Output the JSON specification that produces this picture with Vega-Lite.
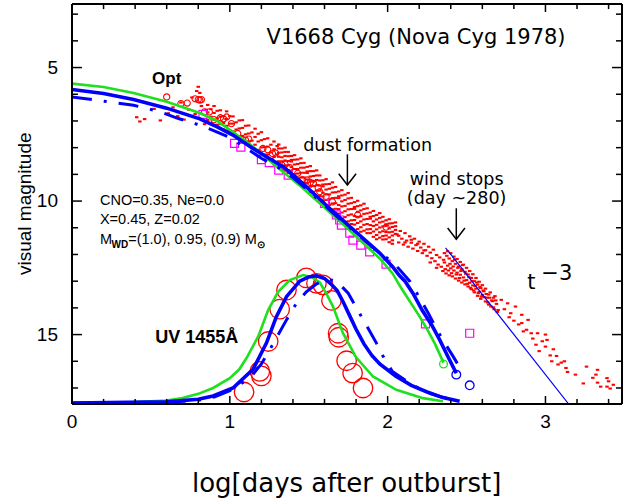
{
  "$schema": "https://vega.github.io/schema/vega-lite/v6.json",
  "width": 550,
  "height": 400,
  "autosize": {"type": "none"},
  "padding": {"left": 72, "top": 4, "right": 14, "bottom": 98},
  "background": "white",
  "config": {
    "view": {"stroke": null},
    "axis": {"grid": false, "domain": false, "ticks": false, "labels": false, "title": null}
  },
  "datasets": {
    "xmaj": [{"v": 0}, {"v": 1}, {"v": 2}, {"v": 3}],
    "xmin": [{"v": 0.2}, {"v": 0.4}, {"v": 0.6}, {"v": 0.8}, {"v": 1.2}, {"v": 1.4}, {"v": 1.6}, {"v": 1.8}, {"v": 2.2}, {"v": 2.4}, {"v": 2.6}, {"v": 2.8}, {"v": 3.2}, {"v": 3.4}],
    "ymaj": [{"v": 5}, {"v": 10}, {"v": 15}],
    "ymin": [{"v": 3}, {"v": 4}, {"v": 6}, {"v": 7}, {"v": 8}, {"v": 9}, {"v": 11}, {"v": 12}, {"v": 13}, {"v": 14}, {"v": 16}, {"v": 17}],
    "green": [
      {"s": "o", "x": 0, "m": 5.6}, {"s": "o", "x": 0.2, "m": 5.73}, {"s": "o", "x": 0.39, "m": 5.95}, {"s": "o", "x": 0.6, "m": 6.28}, {"s": "o", "x": 0.81, "m": 6.7},
      {"s": "o", "x": 0.92, "m": 7.0}, {"s": "o", "x": 1.02, "m": 7.42}, {"s": "o", "x": 1.13, "m": 7.88}, {"s": "o", "x": 1.23, "m": 8.38}, {"s": "o", "x": 1.34, "m": 8.92},
      {"s": "o", "x": 1.46, "m": 9.5}, {"s": "o", "x": 1.55, "m": 9.98}, {"s": "o", "x": 1.63, "m": 10.4}, {"s": "o", "x": 1.75, "m": 11.05}, {"s": "o", "x": 1.85, "m": 11.6},
      {"s": "o", "x": 1.95, "m": 12.15}, {"s": "o", "x": 2.03, "m": 12.7}, {"s": "o", "x": 2.08, "m": 13.2}, {"s": "o", "x": 2.14, "m": 13.75}, {"s": "o", "x": 2.2, "m": 14.3},
      {"s": "o", "x": 2.25, "m": 14.8}, {"s": "o", "x": 2.3, "m": 15.35}, {"s": "o", "x": 2.354, "m": 16.05},
      {"s": "u", "x": 0, "m": 17.55}, {"s": "u", "x": 0.4, "m": 17.53}, {"s": "u", "x": 0.6, "m": 17.47}, {"s": "u", "x": 0.7, "m": 17.38}, {"s": "u", "x": 0.8, "m": 17.22},
      {"s": "u", "x": 0.894, "m": 17.0}, {"s": "u", "x": 1.0, "m": 16.63}, {"s": "u", "x": 1.06, "m": 16.3}, {"s": "u", "x": 1.106, "m": 15.88}, {"s": "u", "x": 1.18, "m": 15.07},
      {"s": "u", "x": 1.243, "m": 14.08}, {"s": "u", "x": 1.306, "m": 13.4}, {"s": "u", "x": 1.38, "m": 12.96}, {"s": "u", "x": 1.464, "m": 12.77}, {"s": "u", "x": 1.52, "m": 12.85},
      {"s": "u", "x": 1.57, "m": 13.05}, {"s": "u", "x": 1.61, "m": 13.45}, {"s": "u", "x": 1.654, "m": 13.95}, {"s": "u", "x": 1.717, "m": 14.95}, {"s": "u", "x": 1.8, "m": 15.85},
      {"s": "u", "x": 1.907, "m": 16.57}, {"s": "u", "x": 2.055, "m": 17.07}, {"s": "u", "x": 2.224, "m": 17.38}, {"s": "u", "x": 2.35, "m": 17.5}
    ],
    "blue": [
      {"s": "o", "x": 0, "m": 5.82}, {"s": "o", "x": 0.2, "m": 5.97}, {"s": "o", "x": 0.39, "m": 6.2}, {"s": "o", "x": 0.6, "m": 6.52}, {"s": "o", "x": 0.81, "m": 6.92},
      {"s": "o", "x": 0.92, "m": 7.22}, {"s": "o", "x": 1.02, "m": 7.53}, {"s": "o", "x": 1.13, "m": 7.97}, {"s": "o", "x": 1.23, "m": 8.33}, {"s": "o", "x": 1.34, "m": 8.72},
      {"s": "o", "x": 1.46, "m": 9.33}, {"s": "o", "x": 1.55, "m": 9.82}, {"s": "o", "x": 1.63, "m": 10.26}, {"s": "o", "x": 1.75, "m": 10.9}, {"s": "o", "x": 1.85, "m": 11.42},
      {"s": "o", "x": 1.95, "m": 11.95}, {"s": "o", "x": 2.03, "m": 12.45}, {"s": "o", "x": 2.076, "m": 12.8}, {"s": "o", "x": 2.11, "m": 13.0}, {"s": "o", "x": 2.16, "m": 13.45},
      {"s": "o", "x": 2.22, "m": 14.1}, {"s": "o", "x": 2.28, "m": 14.65}, {"s": "o", "x": 2.33, "m": 15.2}, {"s": "o", "x": 2.38, "m": 15.8}, {"s": "o", "x": 2.435, "m": 16.45},
      {"s": "u", "x": 0, "m": 17.56}, {"s": "u", "x": 0.6, "m": 17.52}, {"s": "u", "x": 0.8, "m": 17.42}, {"s": "u", "x": 0.894, "m": 17.3}, {"s": "u", "x": 1.02, "m": 17.0},
      {"s": "u", "x": 1.147, "m": 16.3}, {"s": "u", "x": 1.232, "m": 15.32}, {"s": "u", "x": 1.295, "m": 14.33}, {"s": "u", "x": 1.359, "m": 13.58}, {"s": "u", "x": 1.443, "m": 13.0},
      {"s": "u", "x": 1.5, "m": 12.84}, {"s": "u", "x": 1.549, "m": 12.8}, {"s": "u", "x": 1.6, "m": 12.9}, {"s": "u", "x": 1.64, "m": 13.1}, {"s": "u", "x": 1.68, "m": 13.35},
      {"s": "u", "x": 1.72, "m": 13.8}, {"s": "u", "x": 1.76, "m": 14.3}, {"s": "u", "x": 1.8, "m": 14.8}, {"s": "u", "x": 1.85, "m": 15.35}, {"s": "u", "x": 1.9, "m": 15.78},
      {"s": "u", "x": 1.95, "m": 16.1}, {"s": "u", "x": 2.05, "m": 16.55}, {"s": "u", "x": 2.15, "m": 16.9}, {"s": "u", "x": 2.25, "m": 17.15}, {"s": "u", "x": 2.35, "m": 17.36},
      {"s": "u", "x": 2.456, "m": 17.5}
    ],
    "dd": [
      {"s": "o", "x": 0, "m": 6.1}, {"s": "o", "x": 0.24, "m": 6.29}, {"s": "o", "x": 0.39, "m": 6.41}, {"s": "o", "x": 0.56, "m": 6.66}, {"s": "o", "x": 0.67, "m": 6.9},
      {"s": "o", "x": 0.78, "m": 7.1}, {"s": "o", "x": 0.89, "m": 7.34}, {"s": "o", "x": 1.0, "m": 7.62}, {"s": "o", "x": 1.1, "m": 8.0}, {"s": "o", "x": 1.2, "m": 8.4},
      {"s": "o", "x": 1.3, "m": 8.72}, {"s": "o", "x": 1.4, "m": 9.12}, {"s": "o", "x": 1.5, "m": 9.62}, {"s": "o", "x": 1.6, "m": 10.15}, {"s": "o", "x": 1.7, "m": 10.7},
      {"s": "o", "x": 1.8, "m": 11.2}, {"s": "o", "x": 1.9, "m": 11.7}, {"s": "o", "x": 2.0, "m": 12.15}, {"s": "o", "x": 2.06, "m": 12.46}, {"s": "o", "x": 2.14, "m": 13.0},
      {"s": "o", "x": 2.19, "m": 13.5}, {"s": "o", "x": 2.255, "m": 14.17}, {"s": "o", "x": 2.31, "m": 14.79}, {"s": "o", "x": 2.36, "m": 15.3}, {"s": "o", "x": 2.41, "m": 15.77},
      {"s": "o", "x": 2.48, "m": 16.46},
      {"s": "u", "x": 0, "m": 17.57}, {"s": "u", "x": 0.6, "m": 17.54}, {"s": "u", "x": 0.8, "m": 17.46}, {"s": "u", "x": 0.905, "m": 17.33}, {"s": "u", "x": 1.0, "m": 17.1},
      {"s": "u", "x": 1.127, "m": 16.63}, {"s": "u", "x": 1.2, "m": 16.1}, {"s": "u", "x": 1.25, "m": 15.6}, {"s": "u", "x": 1.295, "m": 15.13}, {"s": "u", "x": 1.359, "m": 14.45},
      {"s": "u", "x": 1.422, "m": 13.83}, {"s": "u", "x": 1.485, "m": 13.4}, {"s": "u", "x": 1.55, "m": 13.1}, {"s": "u", "x": 1.62, "m": 12.92}, {"s": "u", "x": 1.68, "m": 13.02},
      {"s": "u", "x": 1.75, "m": 13.45}, {"s": "u", "x": 1.81, "m": 14.08}, {"s": "u", "x": 1.87, "m": 14.7}, {"s": "u", "x": 1.93, "m": 15.33}, {"s": "u", "x": 1.97, "m": 15.8},
      {"s": "u", "x": 2.03, "m": 16.38}, {"s": "u", "x": 2.14, "m": 16.82}, {"s": "u", "x": 2.234, "m": 17.13}, {"s": "u", "x": 2.33, "m": 17.32}, {"s": "u", "x": 2.456, "m": 17.5}
    ],
    "tline": [{"x": 2.367, "m": 11.75}, {"x": 3.147, "m": 17.6}],
    "g_end": [{"x": 2.354, "m": 16.1}],
    "b_end": [{"x": 2.435, "m": 16.5}, {"x": 2.52, "m": 16.9}],
    "arrows": [{"x": 1.745, "m": 8.25, "m2": 9.4}, {"x": 2.435, "m": 10.27, "m2": 11.43}],
    "sq": [
      {"x": 0.83, "m": 6.75}, {"x": 1.03, "m": 7.84}, {"x": 1.07, "m": 7.98}, {"x": 1.2, "m": 8.45}, {"x": 1.25, "m": 8.56},
      {"x": 1.31, "m": 8.84}, {"x": 1.37, "m": 9.03}, {"x": 1.6, "m": 10.09}, {"x": 1.675, "m": 10.52}, {"x": 1.696, "m": 10.71},
      {"x": 1.707, "m": 10.9}, {"x": 1.76, "m": 11.2}, {"x": 1.78, "m": 11.46}, {"x": 1.83, "m": 11.65}, {"x": 1.886, "m": 11.9},
      {"x": 1.99, "m": 12.36}, {"x": 2.24, "m": 14.6}, {"x": 2.52, "m": 14.95}
    ],
    "circ": [
      {"x": 0.6, "m": 6.1}, {"x": 0.69, "m": 6.35}, {"x": 0.73, "m": 6.33}, {"x": 0.78, "m": 6.17}, {"x": 0.8, "m": 6.2},
      {"x": 0.81, "m": 6.22}, {"x": 0.82, "m": 6.2}, {"x": 0.84, "m": 6.66}, {"x": 0.87, "m": 6.66}, {"x": 0.9, "m": 6.95},
      {"x": 0.94, "m": 6.88}, {"x": 0.96, "m": 6.92}, {"x": 0.98, "m": 6.85}, {"x": 1.01, "m": 7.1}, {"x": 1.05, "m": 7.47},
      {"x": 1.08, "m": 7.7}, {"x": 1.1, "m": 7.72}, {"x": 1.12, "m": 7.68}, {"x": 1.21, "m": 8.03}, {"x": 1.24, "m": 8.08},
      {"x": 1.27, "m": 8.22}, {"x": 1.29, "m": 8.2}, {"x": 1.33, "m": 8.65}, {"x": 1.35, "m": 8.62}, {"x": 1.38, "m": 8.75},
      {"x": 1.43, "m": 8.96}, {"x": 1.46, "m": 9.2}, {"x": 1.49, "m": 9.21}, {"x": 1.51, "m": 9.3}, {"x": 1.53, "m": 9.34},
      {"x": 1.56, "m": 9.5}, {"x": 1.57, "m": 9.65}, {"x": 1.61, "m": 9.84}, {"x": 1.65, "m": 10.03}, {"x": 1.81, "m": 10.52},
      {"x": 1.99, "m": 10.98}
    ],
    "uvc": [
      {"x": 1.09, "m": 17.15}, {"x": 1.19, "m": 16.38}, {"x": 1.2, "m": 16.55}, {"x": 1.243, "m": 15.26}, {"x": 1.316, "m": 14.05},
      {"x": 1.359, "m": 13.33}, {"x": 1.485, "m": 12.88}, {"x": 1.549, "m": 13.08}, {"x": 1.59, "m": 13.14}, {"x": 1.644, "m": 13.72},
      {"x": 1.686, "m": 14.95}, {"x": 1.69, "m": 15.1}, {"x": 1.74, "m": 15.98}, {"x": 1.778, "m": 16.44}, {"x": 1.844, "m": 17.0}
    ],
    "dots": [
      {"x": 0.41, "m": 6.86}, {"x": 0.43, "m": 7.02}, {"x": 0.46, "m": 6.93}, {"x": 0.52, "m": 6.55}, {"x": 0.56, "m": 6.98},
      {"x": 0.61, "m": 6.71}, {"x": 0.64, "m": 6.49}, {"x": 0.67, "m": 6.82}, {"x": 0.69, "m": 6.31}, {"x": 0.71, "m": 6.95},
      {"x": 0.74, "m": 6.58}, {"x": 0.76, "m": 6.12}, {"x": 0.78, "m": 6.74}, {"x": 0.79, "m": 5.88}, {"x": 0.8, "m": 5.72},
      {"x": 0.81, "m": 5.95}, {"x": 0.82, "m": 6.44}, {"x": 0.83, "m": 6.95}, {"x": 0.84, "m": 7.12}, {"x": 0.85, "m": 6.58},
      {"x": 0.86, "m": 6.4}, {"x": 0.86, "m": 6.68}, {"x": 0.86, "m": 6.96},
      {"x": 0.88, "m": 6.56}, {"x": 0.88, "m": 6.84}, {"x": 0.88, "m": 7.08},
      {"x": 0.9, "m": 6.44}, {"x": 0.9, "m": 6.7}, {"x": 0.9, "m": 6.96}, {"x": 0.9, "m": 7.16},
      {"x": 0.92, "m": 6.62}, {"x": 0.92, "m": 6.9}, {"x": 0.92, "m": 7.14},
      {"x": 0.94, "m": 6.6}, {"x": 0.94, "m": 6.84}, {"x": 0.94, "m": 7.12},
      {"x": 0.96, "m": 6.82}, {"x": 0.96, "m": 7.08}, {"x": 0.96, "m": 7.32},
      {"x": 0.98, "m": 6.64}, {"x": 0.98, "m": 6.92}, {"x": 0.98, "m": 7.18}, {"x": 0.98, "m": 7.36},
      {"x": 1.0, "m": 6.82}, {"x": 1.0, "m": 7.1}, {"x": 1.0, "m": 7.36},
      {"x": 1.02, "m": 6.83}, {"x": 1.02, "m": 7.1}, {"x": 1.02, "m": 7.39},
      {"x": 1.04, "m": 7.05}, {"x": 1.04, "m": 7.32}, {"x": 1.04, "m": 7.6},
      {"x": 1.06, "m": 6.98}, {"x": 1.06, "m": 7.28}, {"x": 1.06, "m": 7.57},
      {"x": 1.08, "m": 6.97}, {"x": 1.08, "m": 7.26}, {"x": 1.08, "m": 7.56}, {"x": 1.08, "m": 7.78},
      {"x": 1.1, "m": 7.18}, {"x": 1.1, "m": 7.5}, {"x": 1.1, "m": 7.79},
      {"x": 1.12, "m": 7.17}, {"x": 1.12, "m": 7.47}, {"x": 1.12, "m": 7.76},
      {"x": 1.14, "m": 7.43}, {"x": 1.14, "m": 7.74}, {"x": 1.14, "m": 8.02},
      {"x": 1.16, "m": 7.29}, {"x": 1.16, "m": 7.6}, {"x": 1.16, "m": 7.89},
      {"x": 1.18, "m": 7.48}, {"x": 1.18, "m": 7.77}, {"x": 1.18, "m": 8.08},
      {"x": 1.2, "m": 7.42}, {"x": 1.2, "m": 7.72}, {"x": 1.2, "m": 7.99}, {"x": 1.2, "m": 8.24},
      {"x": 1.22, "m": 7.68}, {"x": 1.22, "m": 7.98}, {"x": 1.22, "m": 8.26},
      {"x": 1.24, "m": 7.65}, {"x": 1.24, "m": 7.96}, {"x": 1.24, "m": 8.26},
      {"x": 1.26, "m": 7.89}, {"x": 1.26, "m": 8.18}, {"x": 1.26, "m": 8.47},
      {"x": 1.28, "m": 7.77}, {"x": 1.28, "m": 8.06}, {"x": 1.28, "m": 8.35},
      {"x": 1.3, "m": 7.94}, {"x": 1.3, "m": 8.25}, {"x": 1.3, "m": 8.55}, {"x": 1.3, "m": 8.67},
      {"x": 1.31, "m": 7.88}, {"x": 1.31, "m": 8.03}, {"x": 1.31, "m": 8.19}, {"x": 1.31, "m": 8.34}, {"x": 1.31, "m": 8.51}, {"x": 1.31, "m": 8.69},
      {"x": 1.33, "m": 8.03}, {"x": 1.33, "m": 8.18}, {"x": 1.33, "m": 8.36}, {"x": 1.33, "m": 8.51}, {"x": 1.33, "m": 8.68}, {"x": 1.33, "m": 8.82},
      {"x": 1.35, "m": 8.0}, {"x": 1.35, "m": 8.16}, {"x": 1.35, "m": 8.31}, {"x": 1.35, "m": 8.48}, {"x": 1.35, "m": 8.66}, {"x": 1.35, "m": 8.84},
      {"x": 1.37, "m": 8.16}, {"x": 1.37, "m": 8.32}, {"x": 1.37, "m": 8.5}, {"x": 1.37, "m": 8.66}, {"x": 1.37, "m": 8.84}, {"x": 1.37, "m": 8.95},
      {"x": 1.39, "m": 8.31}, {"x": 1.39, "m": 8.46}, {"x": 1.39, "m": 8.52}, {"x": 1.39, "m": 8.73}, {"x": 1.39, "m": 8.86}, {"x": 1.39, "m": 9.0},
      {"x": 1.41, "m": 8.28}, {"x": 1.41, "m": 8.45}, {"x": 1.41, "m": 8.63}, {"x": 1.41, "m": 8.8}, {"x": 1.41, "m": 8.99}, {"x": 1.41, "m": 9.18},
      {"x": 1.43, "m": 8.44}, {"x": 1.43, "m": 8.61}, {"x": 1.43, "m": 8.8}, {"x": 1.43, "m": 8.97}, {"x": 1.43, "m": 9.16}, {"x": 1.43, "m": 9.32},
      {"x": 1.45, "m": 8.4}, {"x": 1.45, "m": 8.58}, {"x": 1.45, "m": 8.75}, {"x": 1.45, "m": 8.94}, {"x": 1.45, "m": 9.12}, {"x": 1.45, "m": 9.32},
      {"x": 1.47, "m": 8.57}, {"x": 1.47, "m": 8.75}, {"x": 1.47, "m": 8.94}, {"x": 1.47, "m": 9.12}, {"x": 1.47, "m": 9.31}, {"x": 1.47, "m": 9.44},
      {"x": 1.49, "m": 8.72}, {"x": 1.49, "m": 8.89}, {"x": 1.49, "m": 8.95}, {"x": 1.49, "m": 9.19}, {"x": 1.49, "m": 9.33}, {"x": 1.49, "m": 9.49},
      {"x": 1.51, "m": 8.69}, {"x": 1.51, "m": 8.88}, {"x": 1.51, "m": 9.08}, {"x": 1.51, "m": 9.26}, {"x": 1.51, "m": 9.46}, {"x": 1.51, "m": 9.67},
      {"x": 1.53, "m": 8.88}, {"x": 1.53, "m": 9.06}, {"x": 1.53, "m": 9.27}, {"x": 1.53, "m": 9.44}, {"x": 1.53, "m": 9.65}, {"x": 1.53, "m": 9.82},
      {"x": 1.55, "m": 8.85}, {"x": 1.55, "m": 9.04}, {"x": 1.55, "m": 9.21}, {"x": 1.55, "m": 9.41}, {"x": 1.55, "m": 9.61}, {"x": 1.55, "m": 9.82},
      {"x": 1.57, "m": 9.04}, {"x": 1.57, "m": 9.23}, {"x": 1.57, "m": 9.42}, {"x": 1.57, "m": 9.61}, {"x": 1.57, "m": 9.81}, {"x": 1.57, "m": 9.94},
      {"x": 1.59, "m": 9.22}, {"x": 1.59, "m": 9.38}, {"x": 1.59, "m": 9.45}, {"x": 1.59, "m": 9.69}, {"x": 1.59, "m": 9.83}, {"x": 1.59, "m": 9.99},
      {"x": 1.61, "m": 9.18}, {"x": 1.61, "m": 9.37}, {"x": 1.61, "m": 9.57}, {"x": 1.61, "m": 9.75}, {"x": 1.61, "m": 9.96}, {"x": 1.61, "m": 10.17},
      {"x": 1.63, "m": 9.36}, {"x": 1.63, "m": 9.54}, {"x": 1.63, "m": 9.75}, {"x": 1.63, "m": 9.93}, {"x": 1.63, "m": 10.15}, {"x": 1.63, "m": 10.32},
      {"x": 1.65, "m": 9.3}, {"x": 1.65, "m": 9.5}, {"x": 1.65, "m": 9.68}, {"x": 1.65, "m": 9.89}, {"x": 1.65, "m": 10.09}, {"x": 1.65, "m": 10.31},
      {"x": 1.67, "m": 9.47}, {"x": 1.67, "m": 9.67}, {"x": 1.67, "m": 9.88}, {"x": 1.67, "m": 10.08}, {"x": 1.67, "m": 10.29}, {"x": 1.67, "m": 10.43},
      {"x": 1.69, "m": 9.64}, {"x": 1.69, "m": 9.82}, {"x": 1.69, "m": 9.89}, {"x": 1.69, "m": 10.15}, {"x": 1.69, "m": 10.3}, {"x": 1.69, "m": 10.47},
      {"x": 1.71, "m": 9.59}, {"x": 1.71, "m": 9.79}, {"x": 1.71, "m": 10.01}, {"x": 1.71, "m": 10.2}, {"x": 1.71, "m": 10.43}, {"x": 1.71, "m": 10.66},
      {"x": 1.73, "m": 9.76}, {"x": 1.73, "m": 9.96}, {"x": 1.73, "m": 10.18}, {"x": 1.73, "m": 10.38}, {"x": 1.73, "m": 10.6}, {"x": 1.73, "m": 10.78},
      {"x": 1.75, "m": 9.7}, {"x": 1.75, "m": 9.9}, {"x": 1.75, "m": 10.1}, {"x": 1.75, "m": 10.31}, {"x": 1.75, "m": 10.53}, {"x": 1.75, "m": 10.76},
      {"x": 1.77, "m": 9.88}, {"x": 1.77, "m": 10.08}, {"x": 1.77, "m": 10.3}, {"x": 1.77, "m": 10.5}, {"x": 1.77, "m": 10.72}, {"x": 1.77, "m": 10.86},
      {"x": 1.79, "m": 10.04}, {"x": 1.79, "m": 10.22}, {"x": 1.79, "m": 10.29}, {"x": 1.79, "m": 10.56}, {"x": 1.79, "m": 10.71}, {"x": 1.79, "m": 10.88},
      {"x": 1.81, "m": 9.99}, {"x": 1.81, "m": 10.19}, {"x": 1.81, "m": 10.4}, {"x": 1.81, "m": 10.59}, {"x": 1.81, "m": 10.82}, {"x": 1.81, "m": 11.05},
      {"x": 1.83, "m": 10.16}, {"x": 1.83, "m": 10.35}, {"x": 1.83, "m": 10.57}, {"x": 1.83, "m": 10.76}, {"x": 1.83, "m": 10.98}, {"x": 1.83, "m": 11.15},
      {"x": 1.85, "m": 10.1}, {"x": 1.85, "m": 10.3}, {"x": 1.85, "m": 10.48}, {"x": 1.85, "m": 10.69}, {"x": 1.85, "m": 10.89}, {"x": 1.85, "m": 11.11},
      {"x": 1.87, "m": 10.27}, {"x": 1.87, "m": 10.46}, {"x": 1.87, "m": 10.67}, {"x": 1.87, "m": 10.86}, {"x": 1.87, "m": 11.06}, {"x": 1.87, "m": 11.2},
      {"x": 1.89, "m": 10.43}, {"x": 1.89, "m": 10.59}, {"x": 1.89, "m": 10.66}, {"x": 1.89, "m": 10.9}, {"x": 1.89, "m": 11.05}, {"x": 1.89, "m": 11.2},
      {"x": 1.91, "m": 10.37}, {"x": 1.91, "m": 10.56}, {"x": 1.91, "m": 10.76}, {"x": 1.91, "m": 10.93}, {"x": 1.91, "m": 11.14}, {"x": 1.91, "m": 11.34},
      {"x": 1.93, "m": 10.52}, {"x": 1.93, "m": 10.69}, {"x": 1.93, "m": 10.89}, {"x": 1.93, "m": 11.06}, {"x": 1.93, "m": 11.27}, {"x": 1.93, "m": 11.43},
      {"x": 1.95, "m": 10.45}, {"x": 1.95, "m": 10.63}, {"x": 1.95, "m": 10.8}, {"x": 1.95, "m": 10.99}, {"x": 1.95, "m": 11.17}, {"x": 1.95, "m": 11.37},
      {"x": 1.97, "m": 10.59}, {"x": 1.97, "m": 10.77}, {"x": 1.97, "m": 10.95}, {"x": 1.97, "m": 11.13}, {"x": 1.97, "m": 11.31}, {"x": 1.97, "m": 11.44},
      {"x": 1.99, "m": 10.72}, {"x": 1.99, "m": 10.87}, {"x": 1.99, "m": 10.93}, {"x": 1.99, "m": 11.16}, {"x": 1.99, "m": 11.29}, {"x": 1.99, "m": 11.43},
      {"x": 2.01, "m": 10.68}, {"x": 2.01, "m": 10.84}, {"x": 2.01, "m": 11.02}, {"x": 2.01, "m": 11.17}, {"x": 2.01, "m": 11.36}, {"x": 2.01, "m": 11.54},
      {"x": 2.03, "m": 10.83}, {"x": 2.03, "m": 10.97}, {"x": 2.03, "m": 11.15}, {"x": 2.03, "m": 11.29}, {"x": 2.03, "m": 11.47}, {"x": 2.03, "m": 11.6},
      {"x": 2.05, "m": 10.8}, {"x": 2.05, "m": 10.94}, {"x": 2.05, "m": 11.08}, {"x": 2.05, "m": 11.23},
      {"x": 2.06, "m": 11.25}, {"x": 2.07, "m": 11.55}, {"x": 2.07, "m": 11.3}, {"x": 2.08, "m": 11.12}, {"x": 2.09, "m": 11.41},
      {"x": 2.1, "m": 11.63}, {"x": 2.11, "m": 11.2}, {"x": 2.11, "m": 11.55}, {"x": 2.12, "m": 11.48}, {"x": 2.13, "m": 11.71}, {"x": 2.14, "m": 11.32},
      {"x": 2.15, "m": 11.56}, {"x": 2.15, "m": 11.45}, {"x": 2.16, "m": 11.78}, {"x": 2.17, "m": 11.41}, {"x": 2.18, "m": 11.65}, {"x": 2.19, "m": 11.87},
      {"x": 2.19, "m": 11.6}, {"x": 2.2, "m": 11.52}, {"x": 2.21, "m": 11.74}, {"x": 2.22, "m": 11.95}, {"x": 2.23, "m": 11.6}, {"x": 2.23, "m": 11.85},
      {"x": 2.24, "m": 11.84}, {"x": 2.25, "m": 12.05}, {"x": 2.26, "m": 11.71}, {"x": 2.27, "m": 11.93}, {"x": 2.27, "m": 12.3}, {"x": 2.28, "m": 12.14},
      {"x": 2.29, "m": 11.82}, {"x": 2.3, "m": 12.25}, {"x": 2.31, "m": 12.02}, {"x": 2.31, "m": 12.5}, {"x": 2.32, "m": 12.38}, {"x": 2.33, "m": 12.11},
      {"x": 2.34, "m": 12.46}, {"x": 2.35, "m": 12.62}, {"x": 2.36, "m": 11.95}, {"x": 2.36, "m": 12.3}, {"x": 2.37, "m": 12.71}, {"x": 2.38, "m": 11.88},
      {"x": 2.38, "m": 12.42}, {"x": 2.39, "m": 12.15}, {"x": 2.39, "m": 12.78}, {"x": 2.4, "m": 11.95}, {"x": 2.4, "m": 12.52},
      {"x": 2.41, "m": 12.25}, {"x": 2.41, "m": 12.82}, {"x": 2.42, "m": 12.08}, {"x": 2.42, "m": 12.6}, {"x": 2.43, "m": 12.35},
      {"x": 2.43, "m": 12.9}, {"x": 2.44, "m": 12.17}, {"x": 2.44, "m": 12.68}, {"x": 2.45, "m": 12.45}, {"x": 2.45, "m": 12.98},
      {"x": 2.46, "m": 12.28}, {"x": 2.46, "m": 12.76}, {"x": 2.47, "m": 12.55}, {"x": 2.47, "m": 13.05}, {"x": 2.48, "m": 12.38},
      {"x": 2.48, "m": 12.86}, {"x": 2.49, "m": 12.65}, {"x": 2.49, "m": 13.12}, {"x": 2.5, "m": 12.5}, {"x": 2.5, "m": 12.96},
      {"x": 2.51, "m": 12.75}, {"x": 2.51, "m": 13.2}, {"x": 2.52, "m": 12.62}, {"x": 2.52, "m": 13.06}, {"x": 2.53, "m": 12.88},
      {"x": 2.53, "m": 13.3}, {"x": 2.54, "m": 12.74}, {"x": 2.54, "m": 13.16}, {"x": 2.55, "m": 13.0}, {"x": 2.55, "m": 13.42},
      {"x": 2.56, "m": 12.88}, {"x": 2.56, "m": 13.28}, {"x": 2.57, "m": 13.13}, {"x": 2.57, "m": 13.55}, {"x": 2.58, "m": 13.02},
      {"x": 2.58, "m": 13.4}, {"x": 2.59, "m": 13.26}, {"x": 2.59, "m": 13.66}, {"x": 2.6, "m": 13.15}, {"x": 2.6, "m": 13.52},
      {"x": 2.61, "m": 13.38}, {"x": 2.62, "m": 13.76}, {"x": 2.62, "m": 13.28}, {"x": 2.63, "m": 13.62}, {"x": 2.64, "m": 13.5},
      {"x": 2.64, "m": 13.88}, {"x": 2.65, "m": 13.42}, {"x": 2.66, "m": 13.72}, {"x": 2.67, "m": 13.62}, {"x": 2.67, "m": 13.98},
      {"x": 2.68, "m": 13.56}, {"x": 2.69, "m": 13.85}, {"x": 2.7, "m": 14.08},
      {"x": 2.355, "m": 12.2}, {"x": 2.365, "m": 12.55}, {"x": 2.375, "m": 12.05}, {"x": 2.385, "m": 12.6}, {"x": 2.395, "m": 12.35},
      {"x": 2.405, "m": 12.7}, {"x": 2.415, "m": 12.45}, {"x": 2.425, "m": 12.2}, {"x": 2.435, "m": 12.75}, {"x": 2.445, "m": 12.5},
      {"x": 2.455, "m": 12.88}, {"x": 2.465, "m": 12.62}, {"x": 2.475, "m": 12.4}, {"x": 2.485, "m": 12.98}, {"x": 2.495, "m": 12.72},
      {"x": 2.505, "m": 13.1}, {"x": 2.515, "m": 12.85}, {"x": 2.525, "m": 13.25}, {"x": 2.535, "m": 13.0}, {"x": 2.545, "m": 13.35},
      {"x": 2.555, "m": 13.18}, {"x": 2.565, "m": 13.05}, {"x": 2.575, "m": 13.45}, {"x": 2.585, "m": 13.22}, {"x": 2.595, "m": 13.58},
      {"x": 2.605, "m": 13.35}, {"x": 2.615, "m": 13.6}, {"x": 2.625, "m": 13.48}, {"x": 2.635, "m": 13.8}, {"x": 2.645, "m": 13.62},
      {"x": 2.655, "m": 13.95}, {"x": 2.665, "m": 13.75}, {"x": 2.675, "m": 14.05}, {"x": 2.685, "m": 13.72}, {"x": 2.695, "m": 14.15},
      {"x": 2.72, "m": 13.7}, {"x": 2.74, "m": 14.05},
      {"x": 2.76, "m": 13.83}, {"x": 2.77, "m": 14.35}, {"x": 2.78, "m": 14.2}, {"x": 2.8, "m": 14.48}, {"x": 2.81, "m": 13.95},
      {"x": 2.83, "m": 14.62}, {"x": 2.85, "m": 14.26}, {"x": 2.85, "m": 14.57}, {"x": 2.86, "m": 14.88}, {"x": 2.88, "m": 14.82},
      {"x": 2.89, "m": 14.45}, {"x": 2.91, "m": 14.95}, {"x": 2.92, "m": 15.15}, {"x": 2.94, "m": 15.38}, {"x": 2.95, "m": 14.95},
      {"x": 2.96, "m": 15.62}, {"x": 2.98, "m": 15.25}, {"x": 3.0, "m": 15.0}, {"x": 3.0, "m": 15.45}, {"x": 3.01, "m": 15.2},
      {"x": 3.03, "m": 15.78}, {"x": 3.04, "m": 16.0}, {"x": 3.05, "m": 15.55}, {"x": 3.07, "m": 15.8}, {"x": 3.08, "m": 16.12},
      {"x": 3.1, "m": 16.05}, {"x": 3.12, "m": 16.0}, {"x": 3.13, "m": 16.25}, {"x": 3.14, "m": 16.4}, {"x": 3.19, "m": 16.5},
      {"x": 3.24, "m": 16.83}, {"x": 3.26, "m": 16.2}, {"x": 3.3, "m": 16.62}, {"x": 3.32, "m": 16.5}, {"x": 3.33, "m": 16.32},
      {"x": 3.33, "m": 16.8}, {"x": 3.35, "m": 16.95}, {"x": 3.39, "m": 16.63}, {"x": 3.39, "m": 16.95}, {"x": 3.4, "m": 16.75},
      {"x": 3.41, "m": 17.02}, {"x": 3.43, "m": 16.88}
    ]
  },
  "layer": [
    {
      "data": {"name": "dots"},
      "mark": {"type": "point", "shape": "M-1,-0.6H1V0.6H-1Z", "filled": true, "color": "#ff0000", "size": 12, "opacity": 1, "strokeWidth": 0},
      "encoding": {
        "x": {"field": "x", "type": "quantitative", "scale": {"domain": [0, 3.485], "nice": false, "zero": false},
          "axis": {"orient": "bottom", "values": [0, 1, 2, 3], "labels": false, "ticks": false, "domain": false, "title": null}},
        "y": {"field": "m", "type": "quantitative", "scale": {"domain": [2.62, 17.6], "reverse": true, "nice": false, "zero": false},
          "axis": {"orient": "left", "values": [5, 10, 15], "labels": false, "ticks": false, "domain": false, "title": null}}
      }
    },
    {
      "data": {"name": "circ"},
      "mark": {"type": "point", "shape": "circle", "filled": false, "color": "#ff0000", "size": 38, "strokeWidth": 1.1, "opacity": 1},
      "encoding": {"x": {"field": "x", "type": "quantitative", "axis": null}, "y": {"field": "m", "type": "quantitative", "axis": null}}
    },
    {
      "data": {"name": "sq"},
      "mark": {"type": "point", "shape": "square", "filled": false, "color": "#ff00ff", "size": 64, "strokeWidth": 1.2, "opacity": 1},
      "encoding": {"x": {"field": "x", "type": "quantitative", "axis": null}, "y": {"field": "m", "type": "quantitative", "axis": null}}
    },
    {
      "data": {"name": "uvc"},
      "mark": {"type": "point", "shape": "circle", "filled": false, "color": "#ff0000", "size": 380, "strokeWidth": 1.3, "opacity": 1},
      "encoding": {"x": {"field": "x", "type": "quantitative", "axis": null}, "y": {"field": "m", "type": "quantitative", "axis": null}}
    },
    {
      "data": {"name": "tline"},
      "mark": {"type": "line", "color": "#0000ff", "strokeWidth": 1.2, "clip": true},
      "encoding": {"x": {"field": "x", "type": "quantitative", "axis": null}, "y": {"field": "m", "type": "quantitative", "axis": null}}
    },
    {
      "data": {"name": "green"},
      "mark": {"type": "line", "color": "#1ee01e", "strokeWidth": 2.6, "clip": true},
      "encoding": {"x": {"field": "x", "type": "quantitative", "axis": null}, "y": {"field": "m", "type": "quantitative", "axis": null}, "detail": {"field": "s"}}
    },
    {
      "data": {"name": "dd"},
      "mark": {"type": "line", "color": "#0000ff", "strokeWidth": 3, "strokeDash": [20, 12, 3, 12], "clip": true},
      "encoding": {"x": {"field": "x", "type": "quantitative", "axis": null}, "y": {"field": "m", "type": "quantitative", "axis": null}, "detail": {"field": "s"}}
    },
    {
      "data": {"name": "blue"},
      "mark": {"type": "line", "color": "#0000ff", "strokeWidth": 3.6, "clip": true},
      "encoding": {"x": {"field": "x", "type": "quantitative", "axis": null}, "y": {"field": "m", "type": "quantitative", "axis": null}, "detail": {"field": "s"}}
    },
    {
      "data": {"name": "g_end"},
      "mark": {"type": "point", "shape": "circle", "filled": false, "color": "#1ee01e", "size": 60, "strokeWidth": 1.3, "opacity": 1},
      "encoding": {"x": {"field": "x", "type": "quantitative", "axis": null}, "y": {"field": "m", "type": "quantitative", "axis": null}}
    },
    {
      "data": {"name": "b_end"},
      "mark": {"type": "point", "shape": "circle", "filled": false, "color": "#0000ff", "size": 75, "strokeWidth": 1.3, "opacity": 1},
      "encoding": {"x": {"field": "x", "type": "quantitative", "axis": null}, "y": {"field": "m", "type": "quantitative", "axis": null}}
    },
    {
      "data": {"name": "arrows"},
      "mark": {"type": "rule", "color": "black", "strokeWidth": 1.5},
      "encoding": {"x": {"field": "x", "type": "quantitative", "axis": null}, "y": {"field": "m", "type": "quantitative", "axis": null}, "y2": {"field": "m2"}}
    },
    {
      "data": {"name": "arrows"},
      "mark": {"type": "point", "shape": "M-1,-1.3L0,0L1,-1.3", "filled": false, "color": "black", "size": 300, "strokeWidth": 1.5, "opacity": 1},
      "encoding": {"x": {"field": "x", "type": "quantitative", "axis": null}, "y": {"field": "m2", "type": "quantitative", "axis": null}}
    },
    {
      "data": {"name": "xmaj"},
      "mark": {"type": "rule", "color": "black", "strokeWidth": 1.5},
      "encoding": {"x": {"field": "v", "type": "quantitative", "axis": null}, "y": {"datum": 17.6, "axis": null}, "y2": {"datum": 17.3}}
    },
    {
      "data": {"name": "xmaj"},
      "mark": {"type": "rule", "color": "black", "strokeWidth": 1.5},
      "encoding": {"x": {"field": "v", "type": "quantitative", "axis": null}, "y": {"datum": 2.62, "axis": null}, "y2": {"datum": 2.92}}
    },
    {
      "data": {"name": "xmin"},
      "mark": {"type": "rule", "color": "black", "strokeWidth": 1.5},
      "encoding": {"x": {"field": "v", "type": "quantitative", "axis": null}, "y": {"datum": 17.6, "axis": null}, "y2": {"datum": 17.41}}
    },
    {
      "data": {"name": "xmin"},
      "mark": {"type": "rule", "color": "black", "strokeWidth": 1.5},
      "encoding": {"x": {"field": "v", "type": "quantitative", "axis": null}, "y": {"datum": 2.62, "axis": null}, "y2": {"datum": 2.81}}
    },
    {
      "data": {"name": "ymaj"},
      "mark": {"type": "rule", "color": "black", "strokeWidth": 1.5},
      "encoding": {"y": {"field": "v", "type": "quantitative", "axis": null}, "x": {"datum": 0, "axis": null}, "x2": {"datum": 0.063}}
    },
    {
      "data": {"name": "ymaj"},
      "mark": {"type": "rule", "color": "black", "strokeWidth": 1.5},
      "encoding": {"y": {"field": "v", "type": "quantitative", "axis": null}, "x": {"datum": 3.485, "axis": null}, "x2": {"datum": 3.422}}
    },
    {
      "data": {"name": "ymin"},
      "mark": {"type": "rule", "color": "black", "strokeWidth": 1.5},
      "encoding": {"y": {"field": "v", "type": "quantitative", "axis": null}, "x": {"datum": 0, "axis": null}, "x2": {"datum": 0.038}}
    },
    {
      "data": {"name": "ymin"},
      "mark": {"type": "rule", "color": "black", "strokeWidth": 1.5},
      "encoding": {"y": {"field": "v", "type": "quantitative", "axis": null}, "x": {"datum": 3.485, "axis": null}, "x2": {"datum": 3.447}}
    },
    {
      "data": {"values": [{"a": 0, "b1": 2.62, "b2": 17.6}, {"a": 3.485, "b1": 2.62, "b2": 17.6}]},
      "mark": {"type": "rule", "color": "black", "strokeWidth": 2},
      "encoding": {"x": {"field": "a", "type": "quantitative", "axis": null}, "y": {"field": "b1", "type": "quantitative", "axis": null}, "y2": {"field": "b2"}}
    },
    {
      "data": {"values": [{"a": 2.62, "b1": 0, "b2": 3.485}, {"a": 17.6, "b1": 0, "b2": 3.485}]},
      "mark": {"type": "rule", "color": "black", "strokeWidth": 2},
      "encoding": {"y": {"field": "a", "type": "quantitative", "axis": null}, "x": {"field": "b1", "type": "quantitative", "axis": null}, "x2": {"field": "b2"}}
    },
    {
      "data": {"values": [{"x": 0, "m": 18.27, "t": "0"}, {"x": 1, "m": 18.27, "t": "1"}, {"x": 2, "m": 18.27, "t": "2"}, {"x": 3, "m": 18.27, "t": "3"}]},
      "mark": {"type": "text", "font": "Liberation Sans", "fontSize": 19, "align": "center", "baseline": "middle", "color": "black"},
      "encoding": {"x": {"field": "x", "type": "quantitative", "axis": null}, "y": {"field": "m", "type": "quantitative", "axis": null}, "text": {"field": "t"}}
    },
    {
      "data": {"values": [{"x": -0.089, "m": 5, "t": "5"}, {"x": -0.089, "m": 10, "t": "10"}, {"x": -0.089, "m": 15, "t": "15"}]},
      "mark": {"type": "text", "font": "Liberation Sans", "fontSize": 19, "align": "right", "baseline": "middle", "color": "black"},
      "encoding": {"x": {"field": "x", "type": "quantitative", "axis": null}, "y": {"field": "m", "type": "quantitative", "axis": null}, "text": {"field": "t"}}
    },
    {
      "data": {"values": [{"x": 1.74, "m": 20.6, "t": "log[days after outburst]"}]},
      "mark": {"type": "text", "font": "DejaVu Sans", "fontSize": 26, "align": "center", "baseline": "middle", "color": "black"},
      "encoding": {"x": {"field": "x", "type": "quantitative", "axis": null}, "y": {"field": "m", "type": "quantitative", "axis": null}, "text": {"field": "t"}}
    },
    {
      "data": {"values": [{"x": -0.3, "m": 10.1, "t": "visual magnitude"}]},
      "mark": {"type": "text", "font": "Liberation Sans", "fontSize": 19, "angle": 270, "align": "center", "baseline": "middle", "color": "black"},
      "encoding": {"x": {"field": "x", "type": "quantitative", "axis": null}, "y": {"field": "m", "type": "quantitative", "axis": null}, "text": {"field": "t"}}
    },
    {
      "data": {"values": [{"x": 2.18, "m": 3.9, "t": "V1668 Cyg (Nova Cyg 1978)"}]},
      "mark": {"type": "text", "font": "DejaVu Sans", "fontSize": 21, "align": "center", "baseline": "middle", "color": "black"},
      "encoding": {"x": {"field": "x", "type": "quantitative", "axis": null}, "y": {"field": "m", "type": "quantitative", "axis": null}, "text": {"field": "t"}}
    },
    {
      "data": {"values": [{"x": 1.873, "m": 7.93, "t": "dust formation"}, {"x": 2.437, "m": 9.21, "t": "wind stops"}, {"x": 2.437, "m": 9.94, "t": "(day ~280)"}]},
      "mark": {"type": "text", "font": "DejaVu Sans", "fontSize": 17.5, "align": "center", "baseline": "middle", "color": "black"},
      "encoding": {"x": {"field": "x", "type": "quantitative", "axis": null}, "y": {"field": "m", "type": "quantitative", "axis": null}, "text": {"field": "t"}}
    },
    {
      "data": {"values": [{"x": 0.6, "m": 5.43, "t": "Opt"}]},
      "mark": {"type": "text", "font": "Liberation Sans", "fontSize": 17, "fontWeight": "bold", "align": "center", "baseline": "middle", "color": "black"},
      "encoding": {"x": {"field": "x", "type": "quantitative", "axis": null}, "y": {"field": "m", "type": "quantitative", "axis": null}, "text": {"field": "t"}}
    },
    {
      "data": {"values": [{"x": 0.79, "m": 15.13, "t": "UV 1455Å"}]},
      "mark": {"type": "text", "font": "Liberation Sans", "fontSize": 18, "fontWeight": "bold", "align": "center", "baseline": "middle", "color": "black"},
      "encoding": {"x": {"field": "x", "type": "quantitative", "axis": null}, "y": {"field": "m", "type": "quantitative", "axis": null}, "text": {"field": "t"}}
    },
    {
      "data": {"values": [{"x": 0.177, "m": 10.0, "t": "CNO=0.35, Ne=0.0"}, {"x": 0.177, "m": 10.71, "t": "X=0.45, Z=0.02"}, {"x": 0.177, "m": 11.45, "t": "M"}, {"x": 0.356, "m": 11.45, "t": "=(1.0), 0.95, (0.9) M"}]},
      "mark": {"type": "text", "font": "Liberation Sans", "fontSize": 14.5, "align": "left", "baseline": "middle", "color": "black"},
      "encoding": {"x": {"field": "x", "type": "quantitative", "axis": null}, "y": {"field": "m", "type": "quantitative", "axis": null}, "text": {"field": "t"}}
    },
    {
      "data": {"values": [{"x": 0.25, "m": 11.66, "t": "WD"}, {"x": 1.17, "m": 11.66, "t": "⊙"}]},
      "mark": {"type": "text", "font": "Liberation Sans", "fontSize": 10, "fontWeight": "bold", "align": "left", "baseline": "middle", "color": "black"},
      "encoding": {"x": {"field": "x", "type": "quantitative", "axis": null}, "y": {"field": "m", "type": "quantitative", "axis": null}, "text": {"field": "t"}}
    },
    {
      "data": {"values": [{"x": 2.91, "m": 13.07, "t": "t"}, {"x": 3.072, "m": 12.72, "t": "−3"}]},
      "mark": {"type": "text", "font": "DejaVu Sans", "fontSize": 21, "align": "center", "baseline": "middle", "color": "black"},
      "encoding": {"x": {"field": "x", "type": "quantitative", "axis": null}, "y": {"field": "m", "type": "quantitative", "axis": null}, "text": {"field": "t"}}
    }
  ]
}
